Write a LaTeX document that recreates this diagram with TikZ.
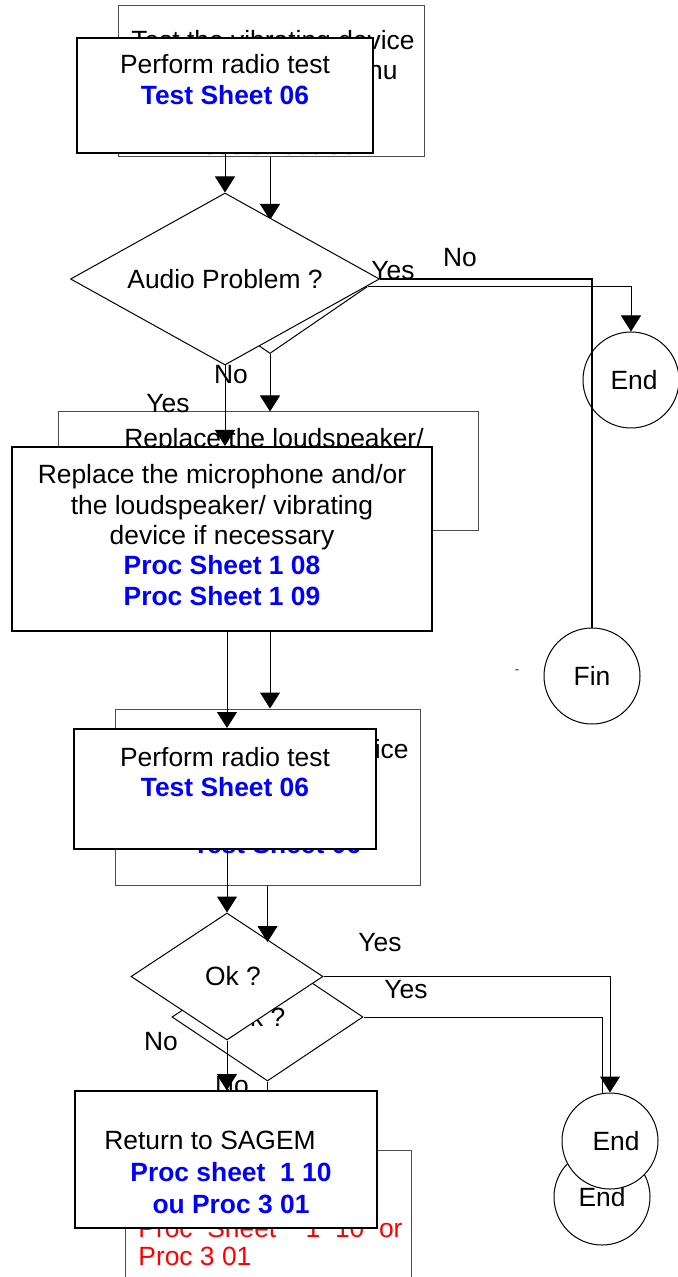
\documentclass[tikz,border=0pt]{standalone}
\usepackage{fontspec}
\setmainfont{Liberation Sans}
\usetikzlibrary{shapes.geometric,arrows.meta}
\definecolor{backgray}{gray}{0.3}
\newcommand{\sheet}[1]{\textcolor{blue}{\textbf{#1}}}

\begin{document}
\begin{tikzpicture}[x=0.5pt,y=-0.5pt,
	>={Triangle[width=10pt,length=8pt]},
	every node/.style={font=\fontsize{13.2}{15.2}\selectfont},
	txt/.style={align=center,inner sep=0pt},
	backbox/.style={draw=backgray,line width=0.5pt,inner sep=0pt},
	frontbox/.style={draw,fill=white,line width=1pt,inner sep=0pt},
	dec/.style={diamond,draw,line width=0.5pt,inner sep=0pt},
	term/.style={circle,draw,line width=0.5pt,minimum size=48pt,inner sep=0pt},
	conn/.style={line width=0.5pt,->}]
	\useasboundingbox (0,0) rectangle (678,1277);

	%back sheet
	\node[backbox,minimum width=153pt,minimum height=75.5pt] (bb1) at (271,81.5) {};
	\node[anchor=base,inner sep=0pt] (bb1a) at (273,50) {Test the vibrating device};
	\node[anchor=base,inner sep=0pt] (bb1b) at (275,80) {with the phone menu};
	\node[anchor=base,inner sep=0pt] (bb1c) at (272,155) {\sheet{Test Sheet 06}};
	\node[dec,aspect=1.46,minimum width=97pt,minimum height=66.5pt] (bd1) at (270,287) {};
	\node[term] (be1) at (631,380) {\hspace{3pt}End};
	\node[backbox,minimum width=210pt,minimum height=59pt] (bb2) at (268,471) {};
	\node[anchor=base,inner sep=0pt] (bb2a) at (274,448) {Replace the loudspeaker/};
	\node[backbox,minimum width=152.5pt,minimum height=88pt] (bb3) at (267.5,797) {};
	\node[anchor=base,inner sep=0pt] (bb3a) at (267,758) {Test the vibrating device};
	\node[anchor=base,inner sep=0pt] (bb3c) at (277,853) {\sheet{Test Sheet 06}};
	\node[dec,aspect=1.49,fill=white,minimum width=95.5pt,minimum height=64pt] (bd2) at (267.5,1017) {\hspace{-10pt}Ok ?};
	\coordinate (bd2in) at (267.5,942);
	\node[term] (be2) at (602,1197) {End};
	\node[backbox,minimum width=143pt,minimum height=75pt] (bb4) at (268,1225) {};
	\node[anchor=north west,align=left,inner sep=0pt,text=red] (bb4a) at (138,1218)
		{Proc\ \ Sheet\ \ \ \ 1\ \ 10\ \ or\\[-1.2pt]Proc 3 01};

	\draw[conn] (bd1.north |- bb1.south) -- (bd1.north);
	\draw[conn] (bd1.east) -| (be1.north);
	\draw[conn] (bd1.south) -- (bd1.south |- bb2.north);
	\draw[conn] (bd1.south |- bb2.south) -- (bd1.south |- bb3.north);
	\draw[conn] (bd2.east) -| (be2.north);
	\draw[conn] (bd2.south) -- (bd2.south |- bb4.north);
	%back labels
	\node (bno1) at (460,257.5) {No};
	\node (byes1) at (168,404) {Yes};
	\node (byes2) at (406,990) {Yes};
	\node (bno2) at (232,1086) {No};

	%front sheet
	\node[frontbox,minimum width=148pt,minimum height=57.5pt] (fb1) at (225,95.5) {};
	\node[txt] (fb1t) at (225,79.5) {Perform radio test\\ \sheet{Test Sheet 06}};
	\node[dec,aspect=1.8,fill=white,minimum width=154.5pt,minimum height=86pt] (fd1) at (225,279) {Audio Problem ?};
	\node[term,fill=white] (fin) at (592,676) {Fin};
	\node[frontbox,minimum width=210pt,minimum height=92pt] (fb2) at (222,539) {};
	\node[txt] (fb2t) at (222,535) {Replace the microphone and/or\\ the loudspeaker/ vibrating\\
		device if necessary\\ \sheet{Proc Sheet 1 08}\\ \sheet{Proc Sheet 1 09}};
	\node[frontbox,minimum width=151pt,minimum height=60pt] (fb3) at (225,789) {};
	\node[txt] (fb3t) at (225,772) {Perform radio test\\ \sheet{Test Sheet 06}};
	\node[dec,aspect=1.51,fill=white,minimum width=96pt,minimum height=63.5pt] (fd2) at (227,976.5) {\hspace{6pt}Ok ?};
	\node[term,fill=white] (fe) at (610,1141) {\hspace{6pt}End};
	\node[frontbox,minimum width=151pt,minimum height=68.5pt] (fb4) at (226,1159.5) {};
	\node[txt] (fb4t) at (231,1172.5) {Return to SAGEM\kern21pt\\[0.8pt] \sheet{Proc sheet\ \ 1 10}\\[0.8pt]
		\sheet{ou Proc 3 01}};
	\node[font=\fontsize{6}{6}\selectfont] (dash) at (517,672) {-};

	\draw[conn] (fb1.south) -- (fd1.north);
	\draw[line width=1pt] (fd1.east) -| (fin.north);
	\draw[conn] (fd1.south) -- (fd1.south |- fb2.north);
	\draw[conn] (fd2.north |- fb2.south) -- (fd2.north |- fb3.north);
	\draw[conn] (fd2.north |- fb3.south) -- (fd2.north);
	\draw[conn] (fd2.east) -| (fe.north);
	\draw[conn] (fd2.south) -- (fd2.south |- fb4.north);
	\draw[conn] (bd2.north |- bb3.south) -- (bd2in);
	%front labels
	\node (fyes1) at (393,271) {Yes};
	\node (fno1) at (231,375) {No};
	\node (fyes2) at (380,943) {Yes};
	\node (fno2) at (161,1042) {No};
\end{tikzpicture}
\end{document}
